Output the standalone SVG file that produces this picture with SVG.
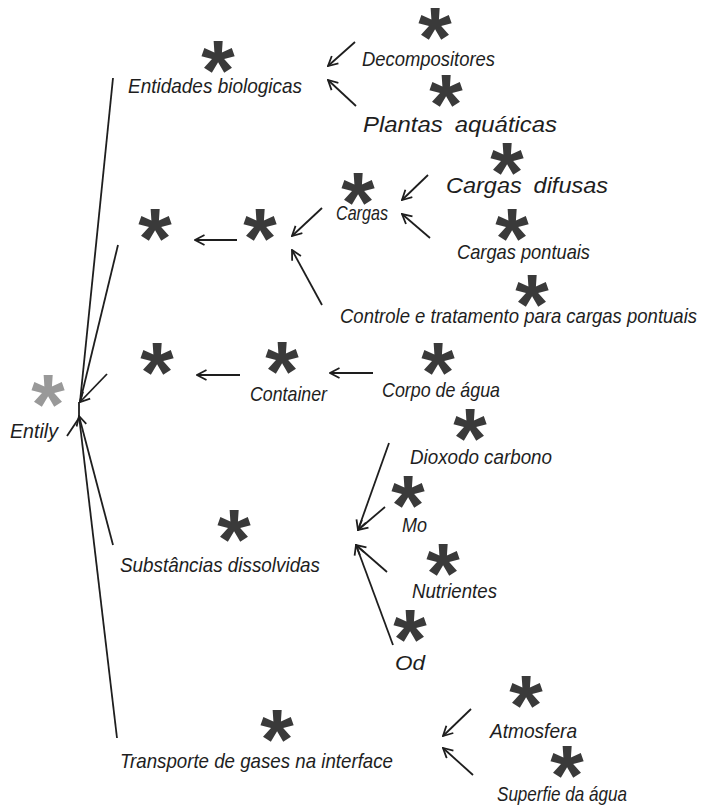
<svg xmlns="http://www.w3.org/2000/svg" width="703" height="806" viewBox="0 0 703 806">
<style>
.ast{font-family:"Liberation Sans",Arial,sans-serif;font-weight:bold;font-size:86px;fill:#3a3a3a;text-anchor:middle}
.astg{fill:#999999}
.lb{font-family:"Liberation Sans Narrow","Liberation Sans",Arial,sans-serif;font-style:italic;font-size:21px;fill:#1e1e1e}
.wd{font-family:"Liberation Sans",Arial,sans-serif;font-style:italic;font-size:22px;fill:#1e1e1e}
.c line{stroke:#1e1e1e;stroke-width:1.8;fill:none}
</style>
<defs>
<marker id="ah" viewBox="0 0 12 12" refX="11" refY="6" markerWidth="12" markerHeight="12" markerUnits="userSpaceOnUse" orient="auto">
<path d="M1.5,1 L11,6 L1.5,11" fill="none" stroke="#1e1e1e" stroke-width="1.8"/>
</marker>
</defs>
<rect width="703" height="806" fill="#ffffff"/>
<g class="c" id="connectors">
<line x1="355" y1="42" x2="328" y2="66" marker-end="url(#ah)"/>
<line x1="356" y1="106" x2="328" y2="80" marker-end="url(#ah)"/>
<line x1="428" y1="175" x2="402" y2="200" marker-end="url(#ah)"/>
<line x1="430" y1="238" x2="402" y2="214" marker-end="url(#ah)"/>
<line x1="322" y1="208" x2="292" y2="236" marker-end="url(#ah)"/>
<line x1="322" y1="305" x2="292" y2="250" marker-end="url(#ah)"/>
<line x1="237" y1="240" x2="195" y2="240" marker-end="url(#ah)"/>
<line x1="240" y1="375" x2="197" y2="375" marker-end="url(#ah)"/>
<line x1="373" y1="373" x2="330" y2="373" marker-end="url(#ah)"/>
<line x1="389" y1="443" x2="358" y2="530" marker-end="url(#ah)"/>
<line x1="385" y1="507" x2="358" y2="530" marker-end="url(#ah)"/>
<line x1="387" y1="572" x2="356" y2="545" marker-end="url(#ah)"/>
<line x1="393" y1="645" x2="356" y2="545" marker-end="url(#ah)"/>
<line x1="471" y1="709" x2="443" y2="736" marker-end="url(#ah)"/>
<line x1="473" y1="775" x2="443" y2="748" marker-end="url(#ah)"/>
<line x1="113" y1="78" x2="80" y2="402"/>
<line x1="118" y1="245" x2="80" y2="402"/>
<line x1="107" y1="374" x2="80" y2="402" marker-end="url(#ah)"/>
<line x1="79" y1="402" x2="79" y2="416"/>
<line x1="113" y1="545" x2="79" y2="416" marker-end="url(#ah)"/>
<line x1="117" y1="738" x2="79" y2="416"/>
<line x1="67" y1="436" x2="79" y2="418"/>
</g>
<g id="entily"><text class="ast astg" x="48" y="434">*</text><text class="lb" x="10" y="438" textLength="48" lengthAdjust="spacingAndGlyphs">Entily</text></g>
<g id="entidades"><text class="ast" x="218" y="100">*</text><text class="lb" x="128" y="93" textLength="174" lengthAdjust="spacingAndGlyphs">Entidades biologicas</text></g>
<g id="decompositores"><text class="ast" x="435" y="67">*</text><text class="lb" x="362" y="66" textLength="133" lengthAdjust="spacingAndGlyphs">Decompositores</text></g>
<g id="plantas"><text class="ast" x="446" y="134">*</text><text class="wd" x="363" y="132" word-spacing="5" textLength="194" lengthAdjust="spacingAndGlyphs">Plantas aquáticas</text></g>
<g id="difusas"><text class="ast" x="507" y="202">*</text><text class="wd" x="446" y="193" word-spacing="5" textLength="162" lengthAdjust="spacingAndGlyphs">Cargas difusas</text></g>
<g id="cargas"><text class="ast" x="358" y="232">*</text><text class="lb" x="336" y="220" font-size="20" textLength="52" lengthAdjust="spacingAndGlyphs">Cargas</text></g>
<g id="pontuais"><text class="ast" x="512" y="268">*</text><text class="lb" x="457" y="259" textLength="133" lengthAdjust="spacingAndGlyphs">Cargas pontuais</text></g>
<g id="controle"><text class="ast" x="532" y="334">*</text><text class="lb" x="340" y="323" textLength="357" lengthAdjust="spacingAndGlyphs">Controle e tratamento para cargas pontuais</text></g>
<g id="n1"><text class="ast" x="155" y="268">*</text></g>
<g id="n2"><text class="ast" x="260" y="268">*</text></g>
<g id="n3"><text class="ast" x="157" y="402">*</text></g>
<g id="container"><text class="ast" x="282" y="401">*</text><text class="lb" x="250" y="401" textLength="77" lengthAdjust="spacingAndGlyphs">Container</text></g>
<g id="corpo"><text class="ast" x="438" y="402">*</text><text class="lb" x="382" y="397" textLength="118" lengthAdjust="spacingAndGlyphs">Corpo de água</text></g>
<g id="dioxodo"><text class="ast" x="470" y="468">*</text><text class="lb" x="410" y="464" textLength="142" lengthAdjust="spacingAndGlyphs">Dioxodo carbono</text></g>
<g id="mo"><text class="ast" x="408" y="535">*</text><text class="lb" x="402" y="532" textLength="25" lengthAdjust="spacingAndGlyphs">Mo</text></g>
<g id="nutrientes"><text class="ast" x="443" y="603">*</text><text class="lb" x="412" y="598" textLength="85" lengthAdjust="spacingAndGlyphs">Nutrientes</text></g>
<g id="od"><text class="ast" x="410" y="669">*</text><text class="lb" x="395" y="670" textLength="30" lengthAdjust="spacingAndGlyphs">Od</text></g>
<g id="substancias"><text class="ast" x="234" y="569">*</text><text class="lb" x="120" y="572" textLength="200" lengthAdjust="spacingAndGlyphs">Substâncias dissolvidas</text></g>
<g id="transporte"><text class="ast" x="277" y="769">*</text><text class="lb" x="120" y="768" textLength="273" lengthAdjust="spacingAndGlyphs">Transporte de gases na interface</text></g>
<g id="atmosfera"><text class="ast" x="526" y="735">*</text><text class="lb" x="490" y="738" textLength="87" lengthAdjust="spacingAndGlyphs">Atmosfera</text></g>
<g id="superfie"><text class="ast" x="567" y="805">*</text><text class="lb" x="497" y="801" textLength="130" lengthAdjust="spacingAndGlyphs">Superfie da água</text></g>
</svg>
